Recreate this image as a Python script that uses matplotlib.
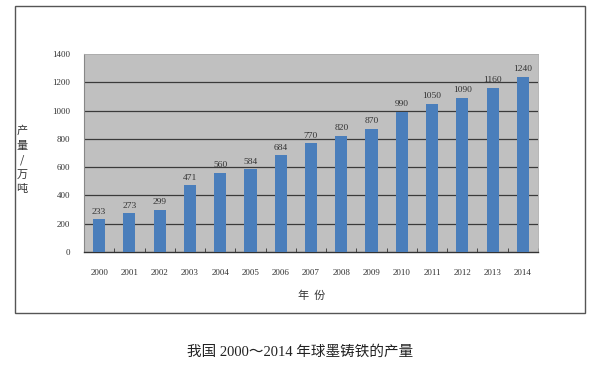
import matplotlib
matplotlib.use("Agg")
import matplotlib.pyplot as plt
from matplotlib.patches import Rectangle

years = ["2000", "2001", "2002", "2003", "2004", "2005", "2006", "2007",
         "2008", "2009", "2010", "2011", "2012", "2013", "2014"]
output = [233, 273, 299, 471, 560, 584, 684, 770, 820, 870, 990, 1050, 1090, 1160, 1240]
yticks = [0, 200, 400, 600, 800, 1000, 1200, 1400]

serif = ["Liberation Serif", "Noto Sans CJK SC"]
cjk = ["Noto Sans CJK SC", "DejaVu Sans"]

fig = plt.figure(figsize=(6, 3.67), dpi=100)
fig.patch.set_facecolor("white")

# outer frame
fig.patches.append(Rectangle((15/600, 1-313/367), (585-15)/600, (313-6)/367,
                             transform=fig.transFigure, fill=False,
                             edgecolor="#555555", linewidth=1.0))

ax = fig.add_axes([84/600, 1-252/367, (538-84)/600, (252-54)/367])
ax.set_facecolor("#c0c0c0")
x = list(range(len(years)))
ax.bar(x, output, width=0.4, color="#4a7ebb", zorder=3)
ax.set_xlim(-0.5, len(years)-0.5)
ax.set_ylim(0, 1400)
ax.set_yticks(yticks)
ax.set_yticklabels([str(v) for v in yticks], fontsize=6.5, family=serif, color="#333333")
for v in yticks[1:-1]:
    ax.axhline(v, color="#3a3a3a", linewidth=0.9, zorder=1)
ax.tick_params(axis="y", length=0, pad=10)
ax.set_xticks(x)
ax.set_xticklabels(years, fontsize=6.5, family=serif, color="#333333")
ax.tick_params(axis="x", length=0, pad=12)
ax.set_xticks([i + 0.5 for i in range(-1, len(years))], minor=True)
ax.tick_params(axis="x", which="minor", length=3, direction="in", color="#333333")
ax.spines["top"].set_color("#aaaaaa")
ax.spines["right"].set_color("#aaaaaa")
ax.spines["top"].set_linewidth(0.6)
ax.spines["right"].set_linewidth(0.6)
ax.spines["left"].set_color("#888888")
ax.spines["bottom"].set_color("#333333")
ax.spines["bottom"].set_linewidth(1.0)

for xi, v in zip(x, output):
    ax.text(xi, v + 25, str(v), ha="center", va="bottom", fontsize=6.8,
            family=serif, color="#333333")

fig.text(22/600, 1-160/367, "产\n量\n/\n万\n吨", ha="center", va="center",
         fontsize=8, family=cjk, color="#333333", linespacing=1.55)
fig.text(312/600, 1-296/367, "年  份", ha="center", va="center",
         fontsize=8, family=cjk, color="#333333")
fig.text(300/600, 1-352/367, "我国 2000～2014 年球墨铸铁的产量", ha="center", va="center",
         fontsize=10.5, family=serif, color="#222222")

fig.savefig("out.png", dpi=100)
